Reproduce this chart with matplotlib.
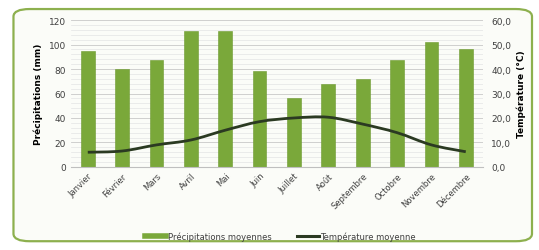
import matplotlib
matplotlib.use('Agg')
import matplotlib.pyplot as plt
from matplotlib.patches import FancyBboxPatch
from matplotlib.path import Path
from matplotlib.patches import PathPatch
from matplotlib.lines import Line2D
from matplotlib.ticker import FuncFormatter, MultipleLocator
import numpy as np

# ── data ──
months = ['Janvier', 'Février', 'Mars', 'Avril', 'Mai', 'Juin', 'Juillet',
          'Août', 'Septembre', 'Octobre', 'Novembre', 'Décembre']
precip = [95, 80, 87, 111, 111, 78, 56, 68, 72, 87, 102, 96]
temp = [6.0, 6.5, 9.0, 11.0, 15.0, 18.5, 20.0, 20.3, 17.5, 14.0, 9.0, 6.2]

bar_color = '#7aa83a'
line_color = '#2b3a22'
frame_color = '#8db04e'

plt.rcParams['font.family'] = ['DejaVu Sans']

fig = plt.figure(figsize=(5.39, 2.51), dpi=100)
fig.patch.set_facecolor('white')

# rounded green frame
frame = FancyBboxPatch((0.025, 0.035), 0.962, 0.925,
                       boxstyle='round,pad=0,rounding_size=0.03',
                       transform=fig.transFigure, facecolor='#fbfcf8',
                       edgecolor=frame_color, linewidth=1.6, zorder=-10)
fig.patches.append(frame)

ax = fig.add_axes([0.131, 0.331, 0.765, 0.585])
ax.set_facecolor('none')
x = np.arange(len(months))

# grid
ax.yaxis.set_minor_locator(MultipleLocator(4))
ax.yaxis.set_major_locator(MultipleLocator(20))
ax.grid(axis='y', which='minor', color='#e4e4e4', linewidth=0.5)
ax.grid(axis='y', which='major', color='#c8c8c8', linewidth=0.6)
ax.set_axisbelow(True)

ax.bar(x, precip, 0.4, color=bar_color, edgecolor='#6d9a30', linewidth=0.4, zorder=2)
ax.set_xlim(-0.5, len(months) - 0.5)
ax.set_ylim(0, 120)
ax.set_xticks(x)
ax.set_xticklabels(months, rotation=45, ha='right', rotation_mode='anchor',
                   fontsize=6, color='#404040')
ax.tick_params(axis='y', which='both', length=0, labelsize=6.5, labelcolor='#404040')
ax.tick_params(axis='x', length=0, pad=3)
ax.set_ylabel('Précipitations (mm)', fontsize=6.5, fontweight='bold', labelpad=4)
for s in ['top', 'right', 'left']:
    ax.spines[s].set_visible(False)
ax.spines['bottom'].set_color('#bfbfbf')

ax2 = ax.twinx()
ax2.set_ylim(0, 60)
ax2.yaxis.set_major_locator(MultipleLocator(10))
ax2.yaxis.set_major_formatter(FuncFormatter(lambda v, p: f'{v:.1f}'.replace('.', ',')))
ax2.tick_params(axis='y', length=0, labelsize=6.5, labelcolor='#404040', pad=6)
ax2.set_ylabel('Température (°C)', fontsize=6.5, fontweight='bold', labelpad=4)
for s in ax2.spines.values():
    s.set_visible(False)

# smooth temperature line (Catmull-Rom -> cubic bezier)
pts = np.column_stack([x, temp]).astype(float)
verts = [tuple(pts[0])]
codes = [Path.MOVETO]
for i in range(len(pts) - 1):
    p0 = pts[i - 1] if i > 0 else pts[i]
    p1 = pts[i]
    p2 = pts[i + 1]
    p3 = pts[i + 2] if i + 2 < len(pts) else pts[i + 1]
    c1 = p1 + (p2 - p0) / 6
    c2 = p2 - (p3 - p1) / 6
    verts += [tuple(c1), tuple(c2), tuple(p2)]
    codes += [Path.CURVE4] * 3
ax2.add_patch(PathPatch(Path(verts, codes), facecolor='none',
                        edgecolor=line_color, linewidth=2.0, zorder=3))

handles = [Line2D([], [], color=bar_color, linewidth=4),
           Line2D([], [], color=line_color, linewidth=2.2)]
fig.legend(handles, ['Précipitations moyennes', 'Température moyenne'],
           loc='center', bbox_to_anchor=(0.52, 0.055), ncol=2, frameon=False,
           fontsize=6, handlelength=2.6, handletextpad=0.2, columnspacing=3,
           labelcolor='#404040')

plt.savefig('out.png', dpi=100)
